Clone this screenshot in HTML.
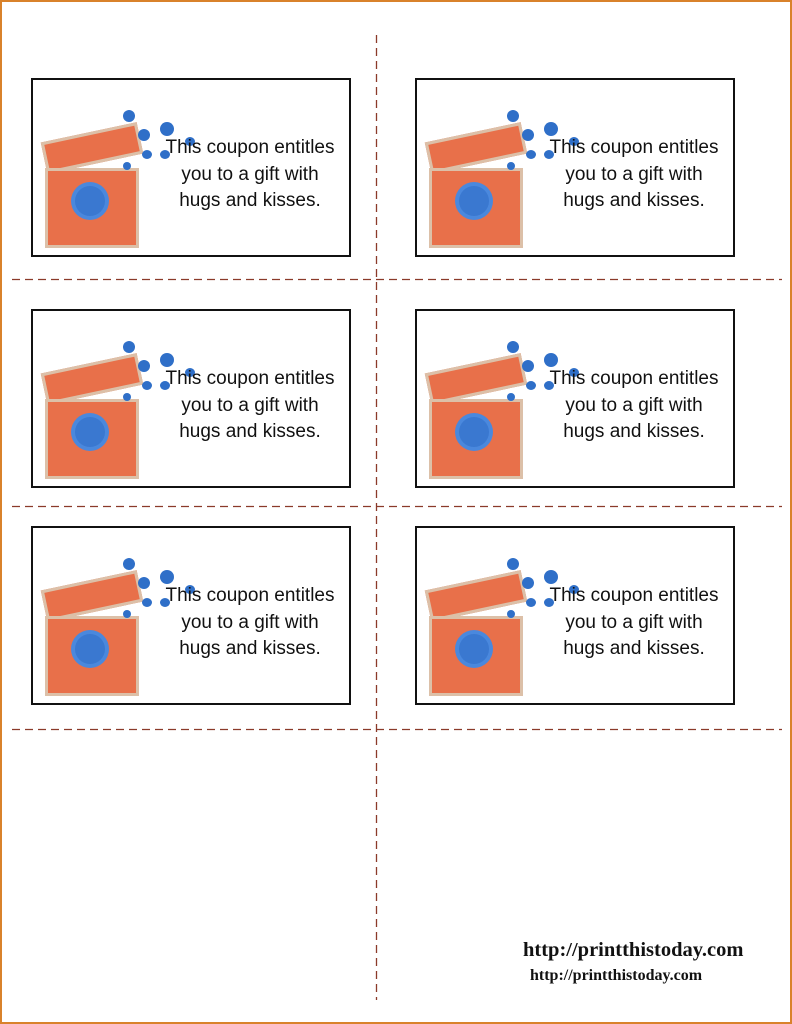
<!DOCTYPE html>
<html><head><style>
body{margin:0;width:792px;height:1024px;position:relative;background:#fff;overflow:hidden;font-family:"Liberation Sans",sans-serif}
.frame{position:absolute;left:0;top:0;width:788px;height:1020px;border:2px solid #d9822b}
.card{position:absolute;width:316px;height:175px;border:2.5px solid #111;background:#fff}
.lid{position:absolute;left:10px;top:52px;width:92px;height:26px;background:#e8704a;border:3px solid #dcc0a8;transform:rotate(-12deg)}
.body{position:absolute;left:12px;top:88px;width:88px;height:74px;background:#e8704a;border:3px solid #dcc0a8}
.fl{position:absolute;border-radius:50%;background:#2f6fc8}
.big{position:absolute;left:42px;top:106px;width:30px;height:30px;border-radius:50%;background:#3a78d0;box-shadow:0 0 0 4px #4a88dd}
.t{position:absolute;left:114px;top:55px;width:206px;text-align:center;font-size:19px;line-height:26.5px;color:#111}
.u{position:absolute;font-family:"Liberation Serif",serif;font-weight:bold;color:#111;white-space:nowrap}
</style></head><body>
<div class="frame"></div>
<svg style="position:absolute;left:0;top:0" width="792" height="1024">
<g stroke="#8b3a2a" stroke-width="1.3" stroke-dasharray="8,5">
<line x1="376.5" y1="35" x2="376.5" y2="1000"/>
<line x1="12" y1="279.5" x2="782" y2="279.5"/>
<line x1="12" y1="506.5" x2="782" y2="506.5"/>
<line x1="12" y1="729.5" x2="782" y2="729.5"/>
</g></svg>

<div class="card" style="left:31px;top:78px"><div class="lid"></div><div class="body"></div><div class="big"></div><div class="fl" style="left:90px;top:30px;width:12px;height:12px"></div><div class="fl" style="left:105px;top:49px;width:12px;height:12px"></div><div class="fl" style="left:127px;top:42px;width:14px;height:14px"></div><div class="fl" style="left:109px;top:70px;width:10px;height:9px"></div><div class="fl" style="left:127px;top:70px;width:10px;height:9px"></div><div class="fl" style="left:152px;top:57px;width:10px;height:9px"></div><div class="fl" style="left:90px;top:82px;width:8px;height:8px"></div><div class="t">This coupon entitles<br>you to a gift with<br>hugs and kisses.</div></div>
<div class="card" style="left:415px;top:78px"><div class="lid"></div><div class="body"></div><div class="big"></div><div class="fl" style="left:90px;top:30px;width:12px;height:12px"></div><div class="fl" style="left:105px;top:49px;width:12px;height:12px"></div><div class="fl" style="left:127px;top:42px;width:14px;height:14px"></div><div class="fl" style="left:109px;top:70px;width:10px;height:9px"></div><div class="fl" style="left:127px;top:70px;width:10px;height:9px"></div><div class="fl" style="left:152px;top:57px;width:10px;height:9px"></div><div class="fl" style="left:90px;top:82px;width:8px;height:8px"></div><div class="t">This coupon entitles<br>you to a gift with<br>hugs and kisses.</div></div>
<div class="card" style="left:31px;top:309px"><div class="lid"></div><div class="body"></div><div class="big"></div><div class="fl" style="left:90px;top:30px;width:12px;height:12px"></div><div class="fl" style="left:105px;top:49px;width:12px;height:12px"></div><div class="fl" style="left:127px;top:42px;width:14px;height:14px"></div><div class="fl" style="left:109px;top:70px;width:10px;height:9px"></div><div class="fl" style="left:127px;top:70px;width:10px;height:9px"></div><div class="fl" style="left:152px;top:57px;width:10px;height:9px"></div><div class="fl" style="left:90px;top:82px;width:8px;height:8px"></div><div class="t">This coupon entitles<br>you to a gift with<br>hugs and kisses.</div></div>
<div class="card" style="left:415px;top:309px"><div class="lid"></div><div class="body"></div><div class="big"></div><div class="fl" style="left:90px;top:30px;width:12px;height:12px"></div><div class="fl" style="left:105px;top:49px;width:12px;height:12px"></div><div class="fl" style="left:127px;top:42px;width:14px;height:14px"></div><div class="fl" style="left:109px;top:70px;width:10px;height:9px"></div><div class="fl" style="left:127px;top:70px;width:10px;height:9px"></div><div class="fl" style="left:152px;top:57px;width:10px;height:9px"></div><div class="fl" style="left:90px;top:82px;width:8px;height:8px"></div><div class="t">This coupon entitles<br>you to a gift with<br>hugs and kisses.</div></div>
<div class="card" style="left:31px;top:526px"><div class="lid"></div><div class="body"></div><div class="big"></div><div class="fl" style="left:90px;top:30px;width:12px;height:12px"></div><div class="fl" style="left:105px;top:49px;width:12px;height:12px"></div><div class="fl" style="left:127px;top:42px;width:14px;height:14px"></div><div class="fl" style="left:109px;top:70px;width:10px;height:9px"></div><div class="fl" style="left:127px;top:70px;width:10px;height:9px"></div><div class="fl" style="left:152px;top:57px;width:10px;height:9px"></div><div class="fl" style="left:90px;top:82px;width:8px;height:8px"></div><div class="t">This coupon entitles<br>you to a gift with<br>hugs and kisses.</div></div>
<div class="card" style="left:415px;top:526px"><div class="lid"></div><div class="body"></div><div class="big"></div><div class="fl" style="left:90px;top:30px;width:12px;height:12px"></div><div class="fl" style="left:105px;top:49px;width:12px;height:12px"></div><div class="fl" style="left:127px;top:42px;width:14px;height:14px"></div><div class="fl" style="left:109px;top:70px;width:10px;height:9px"></div><div class="fl" style="left:127px;top:70px;width:10px;height:9px"></div><div class="fl" style="left:152px;top:57px;width:10px;height:9px"></div><div class="fl" style="left:90px;top:82px;width:8px;height:8px"></div><div class="t">This coupon entitles<br>you to a gift with<br>hugs and kisses.</div></div>

<div class="u" style="left:523px;top:939px;font-size:20.5px">http://printthistoday.com</div>
<div class="u" style="left:530px;top:967px;font-size:16px">http://printthistoday.com</div>
</body></html>
